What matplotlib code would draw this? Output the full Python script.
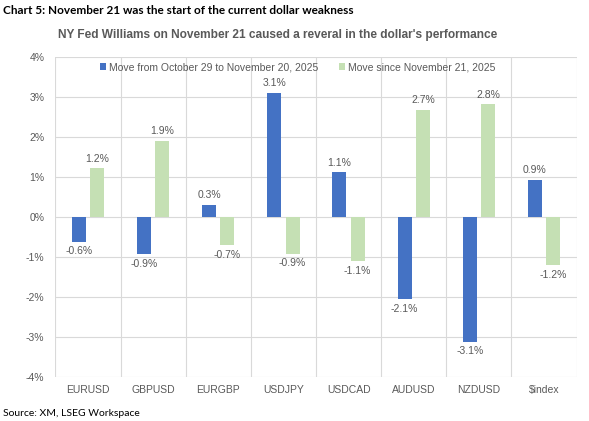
import matplotlib.pyplot as plt
import numpy as np

# Data
pairs = ["EURUSD", "GBPUSD", "EURGBP", "USDJPY", "USDCAD", "AUDUSD", "NZDUSD", "$index"]
move_before = [-0.62, -0.93, 0.30, 3.10, 1.11, -2.06, -3.12, 0.93]
move_after = [1.21, 1.90, -0.70, -0.92, -1.10, 2.68, 2.81, -1.20]
label_before = ["-0.6%", "-0.9%", "0.3%", "3.1%", "1.1%", "-2.1%", "-3.1%", "0.9%"]
label_after = ["1.2%", "1.9%", "-0.7%", "-0.9%", "-1.1%", "2.7%", "2.8%", "-1.2%"]

blue = "#4472C4"
green = "#C5E0B4"
grey = "#595959"

plt.rcParams["font.family"] = ["Liberation Sans", "DejaVu Sans"]

fig = plt.figure(figsize=(5.89, 4.21), dpi=100)
ax = fig.add_axes([0.094, 0.105, 0.885, 0.76])

x = np.arange(len(pairs))
w = 0.215
b1 = ax.bar(x - 0.14, move_before, w, color=blue, label="Move from October 29 to November 20, 2025")
b2 = ax.bar(x + 0.14, move_after, w, color=green, label="Move since November 21, 2025")

# data labels above/below bars
for bars, labels in [(b1, label_before), (b2, label_after)]:
    for bar, txt in zip(bars, labels):
        h = bar.get_height()
        off = 3.5 if h >= 0 else -3.5
        ax.annotate(txt, (bar.get_x() + bar.get_width() / 2, h), xytext=(0, off),
                    textcoords="offset points", ha="center",
                    va="bottom" if h >= 0 else "top", fontsize=7.5, color=grey)

ax.set_xlim(-0.5, len(pairs) - 0.5)
ax.set_ylim(-4, 4)
ax.set_yticks(np.arange(-4, 5, 1))
ax.set_yticklabels([f"{v}%" for v in range(-4, 5)])
ax.set_xticks(x)
ax.set_xticklabels(pairs)
ax.set_xticks(np.arange(-0.5, len(pairs), 1), minor=True)
ax.tick_params(axis="both", which="both", length=0, labelsize=7.5, colors=grey)
ax.tick_params(axis="x", pad=6)
ax.tick_params(axis="y", pad=8)
ax.grid(axis="y", color="#D9D9D9", linewidth=0.8)
ax.grid(axis="x", which="minor", color="#D9D9D9", linewidth=0.8)
ax.set_axisbelow(True)
for s in ax.spines.values():
    s.set_visible(False)

ax.legend(loc="upper center", bbox_to_anchor=(0.465, 1.0), ncol=2, frameon=False,
          fontsize=7.5, labelcolor=grey, handlelength=0.6, handleheight=0.6,
          handletextpad=0.3, columnspacing=2.0, borderaxespad=0.1)

fig.text(0.005, 0.975, "Chart 5: November 21 was the start of the current dollar weakness",
         fontsize=8.5, fontweight="bold", color="black", va="center", family="Lato")
fig.text(0.472, 0.918, "NY Fed Williams on November 21 caused a reveral in the dollar's performance",
         fontsize=8.6, fontweight="bold", color=grey, ha="center", va="center")
fig.text(0.005, 0.012, "Source: XM, LSEG Workspace", fontsize=7.5, color="black", family="Lato")

plt.savefig("out.png", dpi=100)
